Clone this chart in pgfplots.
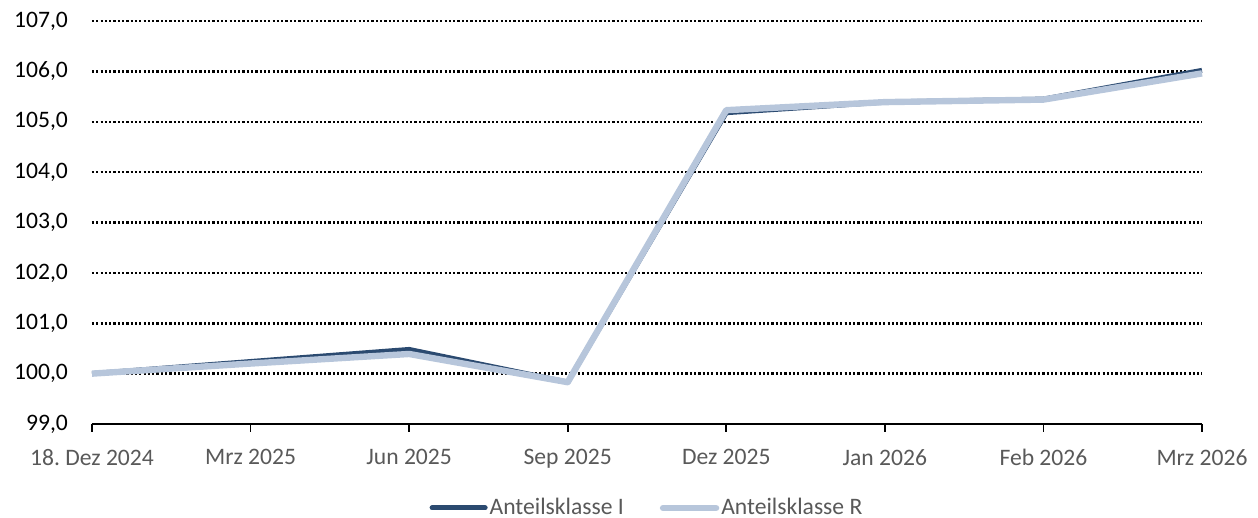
\documentclass[border=0pt]{standalone}
\usepackage{fontspec}
\setmainfont{Carlito}
\usepackage{pgfplots}
\pgfplotsset{compat=1.18}
\definecolor{clI}{HTML}{2B4A70}
\definecolor{clR}{HTML}{B7C6DB}
\definecolor{txt}{HTML}{595959}
\begin{document}
\frenchspacing
\begin{tikzpicture}
\path[use as bounding box] (-46pt,-47pt) rectangle (583pt,212pt);
\begin{axis}[
  at={(0pt,0pt)}, anchor=south west,
  scale only axis, width=555pt, height=201.5pt,
  xmin=0, xmax=7, ymin=99, ymax=107,
  clip=false,
  axis x line*=bottom, axis y line*=left,
  y axis line style={draw=none},
  x axis line style={black, line width=1pt, -},
  xtick={0,...,7},
  xticklabels={18.\ Dez 2024, Mrz 2025, Jun 2025, Sep 2025, Dez 2025, Jan 2026, Feb 2026, Mrz 2026},
  ytick={99,...,107},
  tick align=outside,
  xtick style={black, line width=0.8pt},
  ytick style={draw=none},
  major tick length=4pt,
  ymajorgrids,
  major grid style={black, line width=1.25pt, dash pattern=on 1.1pt off 1.05pt},
  /pgf/number format/.cd, fixed, fixed zerofill, precision=1, use comma, 1000 sep={}, assume math mode=true,
  /pgfplots/.cd,
  yticklabel style={font=\fontsize{11.8pt}{14pt}\selectfont, black, xshift=-4.5pt},
  xticklabel style={font=\fontsize{11.8pt}{14pt}\selectfont, text=txt, yshift=-5pt},
  legend style={draw=none, at={(0.5,-42pt)}, anchor=center, legend columns=2,
    font=\fontsize{11.8pt}{14pt}\selectfont, text=txt,
    /tikz/every even column/.append style={column sep=17pt},
    nodes={inner sep=1pt}},
  legend image code/.code={\draw[#1, line cap=round] (0pt,0pt) -- (26.5pt,0pt);},
]
\addplot[color=clI, line width=2.5pt, line join=round] coordinates {
(0,100.0) (1,100.24) (2,100.48) (3,99.83) (4,105.18) (5,105.39) (6,105.45) (7,106.02)};
\addlegendentry{Anteilsklasse I}
\addplot[color=clR, line width=3.2pt, line join=round] coordinates {
(0,100.0) (1,100.2) (2,100.39) (3,99.83) (4,105.23) (5,105.39) (6,105.44) (7,105.96)};
\addlegendentry{Anteilsklasse R}
\end{axis}
\end{tikzpicture}
\end{document}
